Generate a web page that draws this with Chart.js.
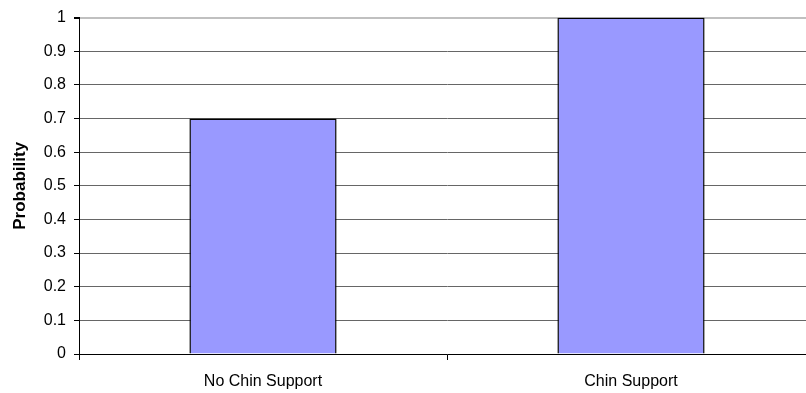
<!DOCTYPE html>
<html>
<head>
<meta charset="utf-8">
<style>
  html, body { margin: 0; padding: 0; background: #fff; overflow: hidden; }
  #wrap { width: 820px; height: 393px; }
</style>
<script src="https://cdn.jsdelivr.net/npm/chart.js@4/dist/chart.umd.min.js"></script>
</head>
<body>
<div id="wrap"><canvas id="probChart" width="820" height="393"></canvas></div>
<script>
  const categories = ['No Chin Support', 'Chin Support'];
  const probability = [0.7, 1.0];
  const yTicks = [0, 0.1, 0.2, 0.3, 0.4, 0.5, 0.6, 0.7, 0.8, 0.9, 1];
  const yTickLabels = ['0', '0.1', '0.2', '0.3', '0.4', '0.5', '0.6', '0.7', '0.8', '0.9', '1'];

  const font = "'Liberation Sans', Arial, sans-serif";

  const ctx = document.getElementById('probChart').getContext('2d');
  new Chart(ctx, {
    type: 'bar',
    data: {
      labels: categories,
      datasets: [{
        label: 'Probability',
        data: probability,
        backgroundColor: '#9999ff',
        borderColor: '#000',
        borderWidth: 1.5,
        borderSkipped: 'bottom',
        barPercentage: 0.4,
        categoryPercentage: 1
      }]
    },
    options: {
      responsive: false,
      animation: false,
      devicePixelRatio: 1,
      layout: { padding: { top: 15, right: 5, left: 0, bottom: 0 } },
      plugins: {
        legend: { display: false },
        tooltip: { enabled: false }
      },
      scales: {
        x: {
          grid: {
            offset: true,
            drawOnChartArea: false,
            drawTicks: true,
            tickLength: 6,
            tickColor: '#000'
          },
          border: { color: '#000', width: 1 },
          ticks: {
            color: '#000',
            padding: 12,
            maxRotation: 0,
            font: { family: font, size: 16 }
          },
          afterFit: (scale) => { scale.height = 39; }
        },
        y: {
          min: 0,
          max: 1,
          afterBuildTicks: (scale) => {
            scale.ticks = yTicks.map(v => ({ value: v }));
          },
          grid: {
            // top line is the lighter plot-area border
            color: (c) => (c.tick && c.tick.value === 1) ? '#c0c0c0' : '#666',
            lineWidth: (c) => (c.tick && c.tick.value === 1) ? 2 : 1,
            tickColor: '#000',
            tickLength: 5
          },
          border: { color: '#000', width: 1 },
          ticks: {
            color: '#000',
            padding: 8,
            font: { family: font, size: 16 },
            callback: (value, i) => yTickLabels[i]
          },
          title: {
            display: true,
            text: 'Probability',
            color: '#000',
            padding: { top: 10, bottom: 0 },
            font: { family: font, size: 17, weight: 'bold' }
          },
          afterFit: (scale) => { scale.width = 79; }
        }
      }
    }
  });
</script>
</body>
</html>
